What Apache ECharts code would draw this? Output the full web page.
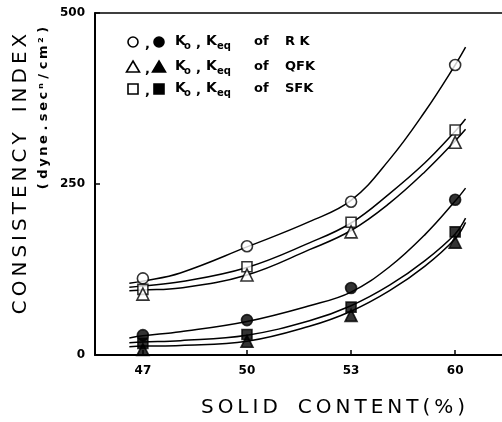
<!DOCTYPE html>
<html><head><meta charset="utf-8">
<script src="https://cdn.jsdelivr.net/npm/echarts@6/dist/echarts.min.js"></script>
<style>html,body{margin:0;padding:0;background:#fff}#c{width:502px;height:422px}</style>
</head><body><div id="c"></div>
<script>
// Data
const xLabels = ['47', '50', '53', '60'];   // solid content (%) — plotted at equal spacing
const xIndex = [0, 1, 2, 3];
const koRK   = [112, 159, 224, 424];
const koQFK  = [89, 117, 180, 311];
const koSFK  = [96, 129, 194, 329];
const keqRK  = [29, 51, 98, 227];
const keqQFK = [8, 20, 58, 165];
const keqSFK = [17, 30, 70, 180];
// fitted curves at these axis positions (incl. drawn extensions)
const curveX     = [-0.13, 0, 0.36, 1, 1.6, 2, 2.37, 2.71, 3, 3.1];
const fitKoRK    = [105, 108, 120, 158, 195, 226, 286, 356, 424, 450];
const fitKoSFK   = [99, 101, 107, 128, 164, 193, 236, 281, 327, 345];
const fitKoQFK   = [94, 95, 98, 117, 154, 182, 222, 268, 313, 330];
const fitKeqRK   = [25, 28, 34, 49, 72, 92, 129, 176, 225, 244];
const fitKeqSFK  = [18, 19, 21, 29, 50, 72, 102, 138, 177, 200];
const fitKeqQFK  = [12, 13, 14, 20, 42, 64, 94, 130, 170, 194];
const yTicks = [0, 250, 500];

const pair = (xs, ys) => xs.map((x, i) => [x, ys[i]]);
const FONT = 'DejaVu Sans';
const spaced = s => s.split('').join('\u2009');
const chart = echarts.init(document.getElementById('c'), null, {renderer: 'canvas'});

function curve(ys) {
  return {type: 'line', data: pair(curveX, ys), smooth: 0.4,
    showSymbol: false, silent: true, z: 2,
    lineStyle: {color: '#000', width: 1.5}};
}
function marks(ys, symbol, filled, size) {
  return {type: 'scatter', data: pair(xIndex, ys), symbol: symbol, symbolSize: size, z: 5,
    itemStyle: {color: filled ? '#000' : '#fff', borderColor: '#000', borderWidth: 1.6}};
}

const legendRows = [
  {y: 42, open: 'circle', name: 'R K'},
  {y: 67, open: 'triangle', name: 'QFK'},
  {y: 89, open: 'rect', name: 'SFK'}
];
const graphics = [];
function sym(kind, cx, cy, filled) {
  const style = {fill: filled ? '#000' : '#fff', stroke: '#000', lineWidth: 1.6};
  if (kind === 'circle') return {type: 'circle', shape: {cx, cy, r: 5}, style};
  if (kind === 'rect') return {type: 'rect', shape: {x: cx - 5, y: cy - 5, width: 10, height: 10}, style};
  return {type: 'polygon', shape: {points: [[cx, cy - 6], [cx + 6.5, cy + 5], [cx - 6.5, cy + 5]]}, style};
}
legendRows.forEach(r => {
  graphics.push(sym(r.open, 133, r.y, false));
  graphics.push({type: 'text', style: {text: ',', x: 145, y: r.y - 4, font: 'bold 13px ' + FONT, fill: '#000'}});
  graphics.push(sym(r.open, 159, r.y, true));
  const t = (text, x, dy, size) => graphics.push({type: 'text', style: {text, x, y: r.y + dy, font: 'bold ' + size + 'px ' + FONT, fill: '#000', textVerticalAlign: 'middle'}});
  t('K', 175, -1, 14);
  t('o', 184, 4, 10);
  t(',', 196, 2, 13);
  t('K', 206, -1, 14);
  t('eq', 217, 4, 10);
  t('of', 254, 0, 13);
  t(r.name, 285, 0, 13);
});
// axis titles
graphics.push({type: 'text', rotation: Math.PI / 2, x: 21, y: 174,
  style: {text: spaced('CONSISTENCY') + '\u2002\u2002' + spaced('INDEX'), font: '20px ' + FONT, fill: '#000', align: 'center', verticalAlign: 'middle'}});
graphics.push({type: 'text', rotation: Math.PI / 2, x: 44, y: 108,
  style: {text: '( ' + spaced('dyne') + ' . ' + spaced('sec\u207F') + ' / ' + spaced('cm\u00B2') + ' )', font: 'bold 13px ' + FONT, fill: '#000', align: 'center', verticalAlign: 'middle'}});
graphics.push({type: 'text', x: 333, y: 408,
  style: {text: spaced('SOLID') + '\u2002\u2002' + spaced('CONTENT(%)'), font: '20px ' + FONT, fill: '#000', align: 'center', verticalAlign: 'middle'}});

chart.setOption({
  backgroundColor: '#fff',
  animation: false,
  grid: {left: 95, right: 0, top: 13, bottom: 67, containLabel: false},
  xAxis: [{
    type: 'value', min: -0.46, max: 3.45,
    axisLine: {onZero: false, lineStyle: {color: '#000', width: 2}},
    axisTick: {inside: true, length: 5, customValues: xIndex, lineStyle: {color: '#000', width: 1.5}},
    axisLabel: {customValues: xIndex, formatter: v => xLabels[Math.round(v)], color: '#000',
      fontFamily: FONT, fontSize: 12, fontWeight: 'bold', margin: 10},
    splitLine: {show: false}
  }, {
    type: 'value', position: 'top', min: 0, max: 1,
    axisLine: {show: true, onZero: false, lineStyle: {color: '#000', width: 1.5}},
    axisTick: {show: false}, axisLabel: {show: false}, splitLine: {show: false}
  }],
  yAxis: {
    type: 'value', min: 0, max: 500, interval: 250,
    axisLine: {show: true, onZero: false, lineStyle: {color: '#000', width: 2}},
    axisTick: {show: true, inside: true, length: 5, lineStyle: {color: '#000', width: 1.5}},
    axisLabel: {color: '#000', fontFamily: FONT, fontSize: 12, fontWeight: 'bold', margin: 10,
      formatter: v => yTicks.includes(v) ? String(v) : ''},
    splitLine: {show: false}
  },
  graphic: graphics,
  series: [
    curve(fitKoRK), curve(fitKoSFK), curve(fitKoQFK),
    curve(fitKeqRK), curve(fitKeqSFK), curve(fitKeqQFK),
    marks(koRK, 'circle', false, 11),
    marks(koSFK, 'rect', false, 10),
    marks(koQFK, 'triangle', false, 12),
    marks(keqRK, 'circle', true, 11),
    marks(keqSFK, 'rect', true, 10),
    marks(keqQFK, 'triangle', true, 12)
  ]
});
</script></body></html>
